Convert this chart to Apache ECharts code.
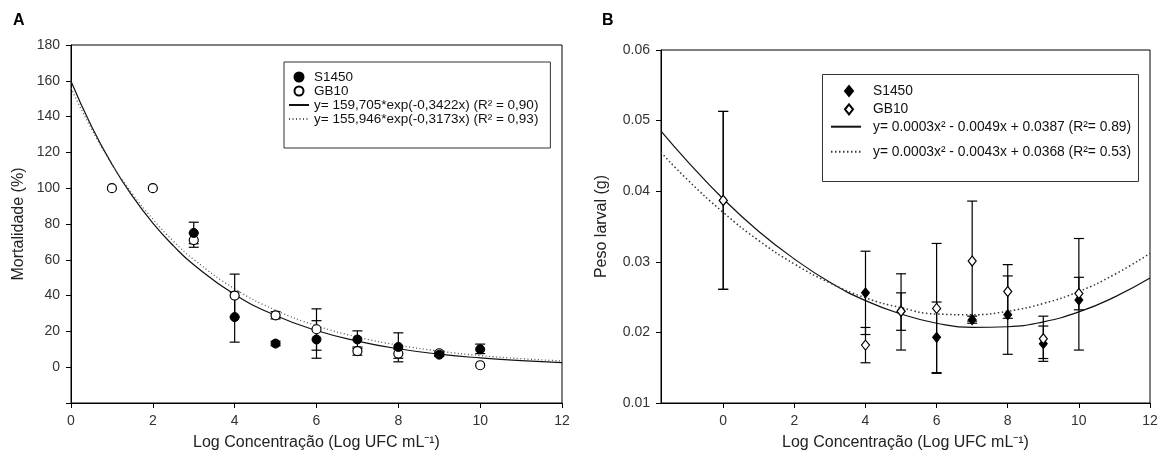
<!DOCTYPE html>
<html>
<head>
<meta charset="utf-8">
<script src="https://cdn.jsdelivr.net/npm/echarts@6/dist/echarts.min.js"></script>
<style>
html,body{margin:0;padding:0;background:#fff;}
#chart{width:1162px;height:464px;}
</style>
</head>
<body>
<div id="chart"></div>
<script>
// ---------- Panel A : Mortalidade (%) ----------
const aXTicks = [0, 2, 4, 6, 8, 10, 12];
const aS1450 = [[3, 75], [4, 28], [5, 13.2], [6, 15.5], [7, 15.5], [8, 11.3], [9, 7], [10, 10]];
const aS1450Err = [[3, 69, 81], [4, 14, 42], [5, 12, 14.5], [6, 5, 26], [7, 10.5, 20.3], [8, 3, 19.2], [9, 6, 8], [10, 7.6, 12.9]];
const aGB10 = [[1, 100], [2, 100], [3, 71], [4, 40], [5, 29], [6, 21.2], [7, 9], [8, 7.6], [9, 7.8], [10, 1.1]];
const aGB10Err = [[3, 67, 75], [4, 28, 52], [5, 27, 31], [6, 9.5, 32.6], [7, 6.7, 11.3], [8, 5, 10], [9, 6.5, 9]];
const aFitS1450 = [[0, 159.7], [0.5, 134.6], [1, 113.4], [1.5, 95.6], [2, 80.5], [2.5, 67.9], [3, 57.2], [4, 40.6], [5, 28.9], [6, 20.5], [7, 14.6], [8, 10.3], [9, 7.3], [10, 5.2], [11, 3.7], [12, 2.6]];
const aFitGB10 = [[0, 155.9], [0.5, 133.1], [1, 113.5], [1.5, 96.9], [2, 82.7], [2.5, 70.5], [3, 60.2], [4, 43.8], [5, 31.9], [6, 23.2], [7, 16.9], [8, 12.3], [9, 9.0], [10, 6.5], [11, 4.8], [12, 3.5]];
const aFitNames = ['y= 159,705*exp(-0,3422x) (R² = 0,90)', 'y= 155,946*exp(-0,3173x) (R² = 0,93)'];

// ---------- Panel B : Peso larval (g) ----------
const bXTicks = [0, 2, 4, 6, 8, 10, 12];
const bS1450 = [[0, 0.0387], [4, 0.0256], [5, 0.0230], [6, 0.0193], [7, 0.0218], [8, 0.0225], [9, 0.0184], [10, 0.0246]];
const bS1450Err = [[0, 0.0261, 0.0513], [4, 0.0197, 0.0315], [5, 0.0175, 0.0283], [6, 0.0143, 0.0243], [7, 0.0213, 0.0223], [8, 0.0169, 0.0280], [9, 0.0159, 0.0209], [10, 0.0175, 0.0333]];
const bGB10 = [[0, 0.0387], [4, 0.0182], [5, 0.0230], [6, 0.0234], [7, 0.0301], [8, 0.0258], [9, 0.0191], [10, 0.0255]];
const bGB10Err = [[0, 0.0261, 0.0513], [4, 0.0157, 0.0207], [5, 0.0203, 0.0256], [6, 0.0142, 0.0326], [7, 0.0216, 0.0386], [8, 0.0220, 0.0296], [9, 0.0163, 0.0223], [10, 0.0232, 0.0278]];
const bFitS1450 = [[-1.75, 0.0485], [-1, 0.0442], [0, 0.0389], [1, 0.0343], [2, 0.0304], [3, 0.0271], [4, 0.0245], [5, 0.0226], [6, 0.0213], [7, 0.0207], [8, 0.0208], [9, 0.0215], [10, 0.0229], [11, 0.0250], [12, 0.0277]];
const bFitGB10 = [[-1.75, 0.0455], [-1, 0.0416], [0, 0.0370], [1, 0.0330], [2, 0.0297], [3, 0.0270], [4, 0.0249], [5, 0.0235], [6, 0.0226], [7, 0.0225], [8, 0.0230], [9, 0.0241], [10, 0.0258], [11, 0.0282], [12, 0.0312]];
const bFitNames = ['y= 0.0003x² - 0.0049x + 0.0387 (R²= 0.89)', 'y= 0.0003x² - 0.0043x + 0.0368 (R²= 0.53)'];

const FONT = 'Liberation Sans, Arial, sans-serif';
const xTitle = 'Log Concentração (Log UFC mL⁻¹)';

function errRender(capHalf) {
  return function (params, api) {
    const x = api.value(0), lo = api.value(1), hi = api.value(2);
    const pHi = api.coord([x, hi]);
    const pLo = api.coord([x, lo]);
    const st = { stroke: '#000', lineWidth: 1.2 };
    return {
      type: 'group',
      children: [
        { type: 'line', shape: { x1: pHi[0], y1: pHi[1], x2: pLo[0], y2: pLo[1] }, style: st },
        { type: 'line', shape: { x1: pHi[0] - capHalf, y1: pHi[1], x2: pHi[0] + capHalf, y2: pHi[1] }, style: st },
        { type: 'line', shape: { x1: pLo[0] - capHalf, y1: pLo[1], x2: pLo[0] + capHalf, y2: pLo[1] }, style: st }
      ]
    };
  };
}

const axisCommon = {
  axisLine: { show: true, onZero: false, lineStyle: { color: '#000', width: 1 } },
  axisTick: { show: true, length: 5, lineStyle: { color: '#000', width: 1 } },
  splitLine: { show: false },
  nameTextStyle: { fontFamily: FONT, fontSize: 16, color: '#222' }
};
const tickFont = { fontFamily: FONT, fontSize: 14, color: '#333' };
const hiddenDot = { color: 'rgba(0,0,0,0)', borderColor: 'rgba(0,0,0,0)', borderWidth: 0 };

const chart = echarts.init(document.getElementById('chart'), null, { renderer: 'canvas' });
const option = {
  backgroundColor: '#fff',
  animation: false,
  textStyle: { fontFamily: FONT },
  title: [
    { text: 'A', left: 8, top: 8, textStyle: { fontFamily: FONT, fontSize: 16, fontWeight: 'bold', color: '#000' } },
    { text: 'B', left: 597, top: 8, textStyle: { fontFamily: FONT, fontSize: 16, fontWeight: 'bold', color: '#000' } }
  ],
  grid: [
    { left: 71, top: 45, width: 491, height: 358, show: true, borderColor: '#000', borderWidth: 1, containLabel: false },
    { left: 661, top: 50, width: 489, height: 353, show: true, borderColor: '#000', borderWidth: 1, containLabel: false }
  ],
  xAxis: [
    Object.assign({}, axisCommon, {
      type: 'value', gridIndex: 0, min: 0, max: 12, interval: 2,
      name: xTitle, nameLocation: 'middle', nameGap: 32,
      axisLabel: Object.assign({ margin: 11 }, tickFont)
    }),
    Object.assign({}, axisCommon, {
      type: 'value', gridIndex: 1, min: -1.75, max: 12,
      name: xTitle, nameLocation: 'middle', nameGap: 32,
      axisTick: { show: true, length: 5, lineStyle: { color: '#000', width: 1 }, customValues: bXTicks },
      axisLabel: Object.assign({ margin: 11, customValues: bXTicks }, tickFont)
    })
  ],
  yAxis: [
    Object.assign({}, axisCommon, {
      type: 'value', gridIndex: 0, min: -20, max: 180, interval: 20,
      name: 'Mortalidade (%)', nameLocation: 'middle', nameGap: 44.5,
      axisLabel: Object.assign({ margin: 11, formatter: v => (v < 0 ? '' : String(v)) }, tickFont)
    }),
    Object.assign({}, axisCommon, {
      type: 'value', gridIndex: 1, min: 0.01, max: 0.06, interval: 0.01,
      name: 'Peso larval (g)', nameLocation: 'middle', nameGap: 51.5,
      axisLabel: Object.assign({ margin: 11, formatter: v => v.toFixed(2) }, tickFont)
    })
  ],
  legend: [
    {
      left: 284, top: 62, orient: 'vertical', padding: [8, 12, 22, 4],
      borderColor: '#333', borderWidth: 1, backgroundColor: '#fff',
      itemWidth: 20, itemHeight: 9, itemGap: 0,
      textStyle: { fontFamily: FONT, fontSize: 13.5, lineHeight: 14, color: '#111' },
      data: ['S1450', 'GB10', { name: aFitNames[0], itemStyle: hiddenDot }, { name: aFitNames[1], itemStyle: hiddenDot }]
    },
    {
      left: 844, top: 84, orient: 'vertical', padding: 0,
      itemWidth: 8, itemHeight: 10, itemGap: 4.3,
      textStyle: { fontFamily: FONT, fontSize: 13.8, lineHeight: 14, color: '#111', padding: [0, 0, 0, 15] },
      data: ['S1450 ', 'GB10 ']
    },
    {
      left: 830, top: 119.7, orient: 'vertical', padding: 0,
      itemWidth: 30, itemHeight: 12, itemGap: 0,
      textStyle: { fontFamily: FONT, fontSize: 13.8, lineHeight: 14, color: '#111', padding: [0, 0, 0, 7] },
      data: [{ name: bFitNames[0], itemStyle: hiddenDot }]
    },
    {
      left: 830, top: 144.7, orient: 'vertical', padding: 0,
      itemWidth: 30, itemHeight: 12, itemGap: 0,
      textStyle: { fontFamily: FONT, fontSize: 13.8, lineHeight: 14, color: '#111', padding: [0, 0, 0, 7] },
      data: [{ name: bFitNames[1], itemStyle: hiddenDot }]
    }
  ],
  graphic: [
    { type: 'rect', left: 822, top: 74, z: -1, shape: { width: 316, height: 107 }, style: { fill: '#fff', stroke: '#333', lineWidth: 1 } }
  ],
  series: [
    // Panel A
    { name: aFitNames[0], type: 'line', xAxisIndex: 0, yAxisIndex: 0, data: aFitS1450, smooth: true, showSymbol: false, symbol: 'none',
      lineStyle: { color: '#111', width: 1.2, type: 'solid' }, itemStyle: { color: '#111' }, z: 2 },
    { name: aFitNames[1], type: 'line', xAxisIndex: 0, yAxisIndex: 0, data: aFitGB10, smooth: true, showSymbol: false, symbol: 'none',
      lineStyle: { color: '#555', width: 1.3, type: [1, 2.5] }, itemStyle: { color: '#555' }, z: 2 },
    { name: 'errA1', type: 'custom', xAxisIndex: 0, yAxisIndex: 0, data: aGB10Err, renderItem: errRender(5), encode: { x: 0, y: [1, 2] }, z: 3 },
    { name: 'errA2', type: 'custom', xAxisIndex: 0, yAxisIndex: 0, data: aS1450Err, renderItem: errRender(5), encode: { x: 0, y: [1, 2] }, z: 3 },
    { name: 'GB10', type: 'scatter', xAxisIndex: 0, yAxisIndex: 0, data: aGB10, symbol: 'circle', symbolSize: 9,
      itemStyle: { color: '#fff', borderColor: '#000', borderWidth: 1.2, opacity: 1 }, z: 4 },
    { name: 'S1450', type: 'scatter', xAxisIndex: 0, yAxisIndex: 0, data: aS1450, symbol: 'circle', symbolSize: 9,
      itemStyle: { color: '#000', borderColor: '#000', borderWidth: 1, opacity: 1 }, z: 5 },
    // Panel B
    { name: bFitNames[0], type: 'line', xAxisIndex: 1, yAxisIndex: 1, data: bFitS1450, smooth: true, showSymbol: false, symbol: 'none',
      lineStyle: { color: '#111', width: 1.2, type: 'solid' }, itemStyle: { color: '#111' }, z: 2 },
    { name: bFitNames[1], type: 'line', xAxisIndex: 1, yAxisIndex: 1, data: bFitGB10, smooth: true, showSymbol: false, symbol: 'none',
      lineStyle: { color: '#333', width: 1.5, type: [1.5, 2.5] }, itemStyle: { color: '#333' }, z: 2 },
    { name: 'errB1', type: 'custom', xAxisIndex: 1, yAxisIndex: 1, data: bS1450Err, renderItem: errRender(5), encode: { x: 0, y: [1, 2] }, z: 3 },
    { name: 'errB2', type: 'custom', xAxisIndex: 1, yAxisIndex: 1, data: bGB10Err, renderItem: errRender(5), encode: { x: 0, y: [1, 2] }, z: 3 },
    { name: 'S1450 ', type: 'scatter', xAxisIndex: 1, yAxisIndex: 1, data: bS1450, symbol: 'diamond', symbolSize: [8, 10],
      itemStyle: { color: '#000', borderColor: '#000', borderWidth: 1, opacity: 1 }, z: 4 },
    { name: 'GB10 ', type: 'scatter', xAxisIndex: 1, yAxisIndex: 1, data: bGB10, symbol: 'diamond', symbolSize: [8, 10],
      itemStyle: { color: '#fff', borderColor: '#000', borderWidth: 1.2, opacity: 1 }, z: 5 }
  ]
};
chart.setOption(option);
</script>
</body>
</html>
